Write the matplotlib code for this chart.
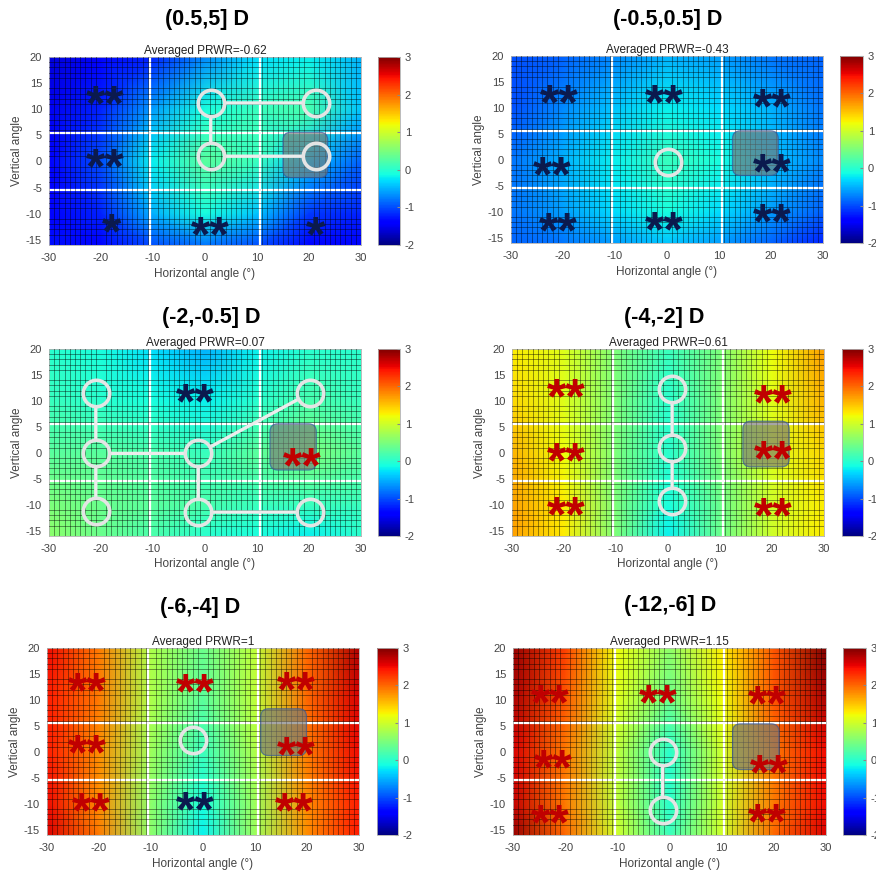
import numpy as np
import matplotlib
matplotlib.use("Agg")
import matplotlib.pyplot as plt
from matplotlib.patches import FancyBboxPatch

plt.rcParams['font.family'] = ['Liberation Sans', 'DejaVu Sans']
plt.rcParams['axes.unicode_minus'] = False

# ---------------- data ----------------
titles = ["(0.5,5] D", "(-0.5,0.5] D", "(-2,-0.5] D", "(-4,-2] D", "(-6,-4] D", "(-12,-6] D"]
averages = ["-0.62", "-0.43", "0.07", "0.61", "1", "1.15"]

# control grid (degrees) at which the map values were read
grid_x = [-30, -20, -10, 0, 10, 20, 30]
grid_y = [20, 10, 0, -10, -16]

map1 = [[-1.6, -1.4, -1.2, -0.7, -0.3, -0.2, -0.5],
        [-1.5, -1.2, -0.6, -0.1, 0.1, 0.2, -0.4],
        [-1.4, -1.0, -0.2, 0.3, 0.1, -0.4, -0.9],
        [-1.4, -1.2, -0.5, -0.1, -0.4, -1.1, -1.2],
        [-1.3, -1.4, -1.0, -0.8, -1.0, -1.4, -1.4]]
map2 = [[-1.0, -0.9, -0.7, -0.5, -0.6, -0.8, -0.9],
        [-1.0, -0.7, -0.4, -0.2, -0.3, -0.5, -0.8],
        [-0.8, -0.5, -0.2, 0.1, -0.1, -0.4, -0.7],
        [-0.8, -0.6, -0.3, -0.1, -0.3, -0.6, -0.9],
        [-0.9, -0.8, -0.6, -0.4, -0.6, -0.9, -1.2]]
map3 = [[0.0, -0.1, -0.3, -0.5, -0.2, 0.0, 0.0],
        [0.1, 0.0, -0.1, -0.2, 0.0, 0.2, 0.1],
        [0.3, 0.3, 0.2, 0.1, 0.3, 0.5, 0.3],
        [0.5, 0.4, 0.3, 0.2, 0.1, 0.1, 0.1],
        [0.6, 0.4, 0.2, 0.0, -0.1, -0.2, 0.0]]
map4 = [[1.3, 1.1, 0.5, 0.1, 0.5, 1.2, 1.7],
        [1.4, 1.1, 0.5, 0.0, 0.5, 1.1, 1.6],
        [1.6, 1.2, 0.5, 0.0, 0.5, 1.1, 1.4],
        [1.7, 1.3, 0.5, -0.1, 0.4, 1.0, 1.3],
        [1.7, 1.3, 0.5, -0.2, 0.4, 1.0, 1.3]]
map5 = [[2.5, 1.9, 0.8, 0.4, 0.9, 2.0, 2.8],
        [2.4, 1.9, 0.8, 0.3, 0.9, 2.0, 2.6],
        [2.4, 1.8, 0.7, 0.1, 0.8, 1.9, 2.5],
        [2.5, 1.8, 0.6, -0.1, 0.7, 1.8, 2.4],
        [2.6, 1.9, 0.6, -0.2, 0.7, 1.8, 2.4]]
map6 = [[2.9, 2.2, 1.2, 0.6, 1.3, 2.1, 3.0],
        [2.8, 2.1, 1.1, 0.4, 1.2, 2.1, 2.8],
        [2.6, 1.9, 0.9, 0.0, 1.0, 1.9, 2.5],
        [2.7, 1.9, 0.9, 0.0, 1.0, 1.9, 2.5],
        [2.9, 2.0, 1.0, 0.1, 1.0, 2.0, 2.6]]
maps = [map1, map2, map3, map4, map5, map6]

# region borders
region_x = [-10.5, 10.5]
region_y = [-5.5, 5.5]

# circles (x, y) and connections (index pairs)
circles = [
    [(1.1, 11.2), (21.4, 11.2), (1.1, 1.0), (21.4, 1.0)],
    [(0.1, -0.4)],
    [(-21, 11.5), (-21, -0.1), (-21, -11.2), (-1.3, -0.1), (-1.3, -11.4), (20.1, -11.4), (20.1, 11.5)],
    [(0.8, 12.3), (0.8, 1.0), (0.8, -9.2)],
    [(-2.0, 2.2)],
    [(-1.3, 0.05), (-1.3, -11.1)],
]
links = [
    [(0, 1), (0, 2), (2, 3)],
    [],
    [(0, 1), (1, 2), (1, 3), (3, 4), (4, 5), (3, 6)],
    [(0, 1), (1, 2)],
    [],
    [(0, 1)],
]
# significance stars: (x, y, text, colour code) n = navy, r = red
stars = [
    [(-19.1, 13.6, "**", "n"), (-19.1, 1.5, "**", "n"), (-18.0, -10.8, "*", "n"),
     (1.1, -11.4, "**", "n"), (21.2, -11.4, "*", "n")],
    [(-20.8, 13.5, "**", "n"), (-0.6, 13.5, "**", "n"), (20.2, 12.8, "**", "n"),
     (-22.0, -0.3, "**", "n"), (20.2, 0.3, "**", "n"),
     (-21.0, -11.0, "**", "n"), (-0.6, -10.8, "**", "n"), (20.2, -9.4, "**", "n")],
    [(-1.9, 12.5, "**", "n"), (18.8, 0.1, "**", "r")],
    [(-19.6, 13.3, "**", "r"), (20.2, 12.3, "**", "r"), (-19.6, 1.0, "**", "r"),
     (20.2, 1.5, "**", "r"), (-19.6, -9.4, "**", "r"), (20.2, -9.5, "**", "r")],
    [(-22.2, 14.4, "**", "r"), (-1.5, 14.2, "**", "r"), (17.9, 14.6, "**", "r"),
     (-22.2, 2.4, "**", "r"), (17.9, 2.0, "**", "r"),
     (-21.5, -8.8, "**", "r"), (-1.5, -8.6, "**", "n"), (17.5, -8.8, "**", "r")],
    [(-22.8, 12.0, "**", "r"), (-2.1, 12.0, "**", "r"), (18.7, 11.8, "**", "r"),
     (-22.3, -0.4, "**", "r"), (19.2, -1.4, "**", "r"),
     (-22.8, -11.0, "**", "r"), (18.7, -10.9, "**", "r")],
]
# grey highlighted box: (x0, x1, y0, y1)
boxes = [(15.0, 23.6, -3.1, 5.6), (12.6, 21.4, -3.0, 5.6), (12.5, 21.4, -3.3, 5.6),
         (14.4, 23.3, -2.7, 6.1), (11.1, 19.9, -0.7, 8.3), (12.1, 21.0, -3.4, 5.4)]

x_ticks = [-30, -20, -10, 0, 10, 20, 30]
y_ticks = [-15, -10, -5, 0, 5, 10, 15, 20]
cbar_ticks = [-2, -1, 0, 1, 2, 3]

# ---------------- layout (pixels) ----------------
W, H = 876, 874
fig = plt.figure(figsize=(W / 100, H / 100), dpi=100)

ax_px = [(49, 361, 57, 245), (511, 823, 56, 243),
         (49, 361, 349, 536), (512, 824, 349, 536),
         (47, 359, 648, 835), (513, 826, 648, 835)]
cb_px = [(378, 400), (840, 863), (378, 400), (842, 863), (377, 398), (843, 866)]
title_px = [(207, 20), (668, 20), (211, 317), (664, 317), (200, 608), (670, 605)]


def rect(x0, x1, y0, y1):
    return [x0 / W, 1 - y1 / H, (x1 - x0) / W, (y1 - y0) / H]


star_col = {"n": "#0b1a4e", "r": "#c00000"}
grey = "#444444"

for i in range(6):
    x0, x1, y0, y1 = ax_px[i]
    ax = fig.add_axes(rect(x0, x1, y0, y1))
    Z = np.array(maps[i])
    X, Y = np.meshgrid(grid_x, grid_y)
    mesh = ax.pcolormesh(X, Y, Z, shading='gouraud', cmap='jet', vmin=-2, vmax=3, zorder=0)
    ax.set_xlim(-30, 30)
    ax.set_ylim(-16, 20)
    # fine cell grid
    ax.set_xticks(np.arange(-30, 31, 1), minor=True)
    ax.set_yticks(np.arange(-16, 21, 1), minor=True)
    ax.grid(which='minor', color='black', lw=0.7, alpha=0.42, zorder=1)
    ax.set_axisbelow(False)
    ax.tick_params(which='minor', length=0)
    ax.set_xticks(x_ticks)
    ax.set_yticks(y_ticks)
    ax.tick_params(which='major', length=0, labelsize=8, labelcolor=grey)
    ax.tick_params(axis='x', pad=6)
    ax.tick_params(axis='y', pad=5)
    for s in ax.spines.values():
        s.set_color('#b0b0b0')
        s.set_linewidth(0.6)
    for xv in region_x:
        ax.axvline(xv, color='white', lw=1.6, zorder=2)
    for yv in region_y:
        ax.axhline(yv, color='white', lw=1.6, zorder=2)

    # grey box
    bx0, bx1, by0, by1 = boxes[i]
    ax.add_patch(FancyBboxPatch((bx0, by0), bx1 - bx0, by1 - by0,
                                boxstyle="round,pad=0,rounding_size=1.5",
                                facecolor='#777777', alpha=0.65, edgecolor='#2f55a0',
                                lw=0.9, zorder=3, mutation_aspect=1))

    # connections + circles
    pts = circles[i]
    for a, b in links[i]:
        ax.annotate('', xy=pts[b], xytext=pts[a],
                    arrowprops=dict(arrowstyle='-', color='#ececec', lw=2.4,
                                    shrinkA=10, shrinkB=10), zorder=4)
    if pts:
        cx = [p[0] for p in pts]
        cy = [p[1] for p in pts]
        ax.plot(cx, cy, ls='none', marker='o', ms=19, mfc='none', mec='#e4e4e4',
                mew=2.6, zorder=5)

    # stars
    fs = 36
    for sx, sy, txt, c in stars[i]:
        ax.annotate(txt, xy=(sx, sy), xytext=(0, -0.6 * fs), textcoords='offset points',
                    ha='center', va='baseline', fontsize=fs, fontweight='bold',
                    color=star_col[c], zorder=6)

    ax.set_xlabel("Horizontal angle (°)", fontsize=8.5, color=grey, labelpad=3)
    ax.set_ylabel("Vertical angle", fontsize=8.5, color=grey, labelpad=2)
    ax.set_title("Averaged PRWR=" + averages[i], fontsize=8.5, color='#222222', pad=2)

    tx, ty = title_px[i]
    fig.text(tx / W, 1 - ty / H, titles[i], fontsize=15.5, fontweight='bold',
             ha='center', va='center', color='black')

    c0, c1 = cb_px[i]
    cax = fig.add_axes(rect(c0, c1, y0, y1))
    cb = fig.colorbar(mesh, cax=cax, ticks=cbar_ticks)
    cb.ax.tick_params(labelsize=8, labelcolor=grey, length=2, direction='in', color='#888888')
    cb.outline.set_edgecolor('#b0b0b0')
    cb.outline.set_linewidth(0.6)

fig.savefig("out.png", dpi=100, facecolor='white')
